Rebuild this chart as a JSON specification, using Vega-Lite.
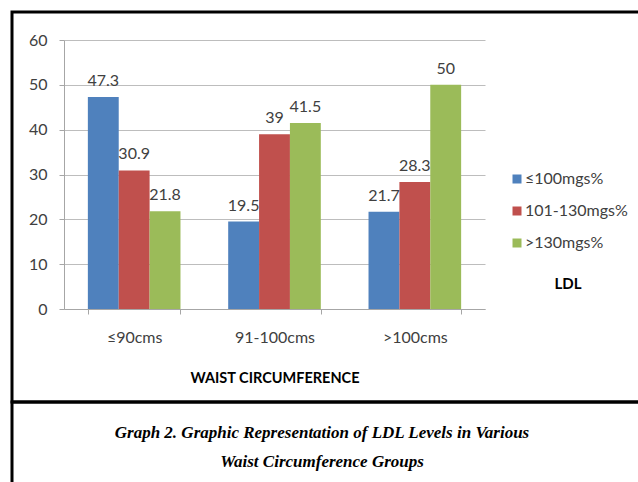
{
  "$schema": "https://vega.github.io/schema/vega-lite/v6.json",
  "padding": {"left": 10, "top": 10, "right": 0, "bottom": 0},
  "background": "white",
  "spacing": 0,
  "bounds": "flush",
  "config": {"view": {"stroke": "black", "strokeWidth": 3}, "font": "Lato"},
  "vconcat": [
    {
      "width": 630,
      "height": 390,
      "data": {"values": [
        {"waist": "≤90cms", "ldl": "≤100mgs%", "value": 47.3},
        {"waist": "≤90cms", "ldl": "101-130mgs%", "value": 30.9},
        {"waist": "≤90cms", "ldl": ">130mgs%", "value": 21.8},
        {"waist": "91-100cms", "ldl": "≤100mgs%", "value": 19.5},
        {"waist": "91-100cms", "ldl": "101-130mgs%", "value": 39},
        {"waist": "91-100cms", "ldl": ">130mgs%", "value": 41.5},
        {"waist": ">100cms", "ldl": "≤100mgs%", "value": 21.7},
        {"waist": ">100cms", "ldl": "101-130mgs%", "value": 28.3},
        {"waist": ">100cms", "ldl": ">130mgs%", "value": 50}
      ]},
      "encoding": {
        "x": {
          "field": "waist", "type": "nominal",
          "sort": ["≤90cms", "91-100cms", ">100cms"],
          "scale": {"range": [52, 473], "paddingInner": 0.34, "paddingOuter": 0.17},
          "axis": {
            "offset": -93, "domainColor": "#a6a6a6", "tickColor": "#a6a6a6", "tickSize": 5,
            "tickBand": "extent", "labelFontSize": 16, "labelColor": "#404040", "labelPadding": 15,
            "labelAngle": 0, "grid": false,
            "title": "WAIST CIRCUMFERENCE", "titleFontSize": 14.5, "titleFontWeight": "bold",
            "titleColor": "#000000", "titlePadding": 26
          }
        },
        "xOffset": {
          "field": "ldl", "type": "nominal",
          "sort": ["≤100mgs%", "101-130mgs%", ">130mgs%"],
          "scale": {"paddingInner": 0, "paddingOuter": 0}
        },
        "y": {
          "field": "value", "type": "quantitative",
          "scale": {"domain": [0, 60], "range": [297, 28], "nice": false},
          "axis": {
            "offset": -52, "values": [0, 10, 20, 30, 40, 50, 60],
            "domainColor": "#a6a6a6", "tickColor": "#a6a6a6", "tickSize": 5,
            "grid": true, "gridColor": "#bdbdbd",
            "labelFontSize": 16, "labelColor": "#404040", "labelPadding": 12,
            "title": null
          }
        }
      },
      "layer": [
        {
          "mark": {"type": "bar"},
          "encoding": {
            "color": {
              "field": "ldl", "type": "nominal",
              "sort": ["≤100mgs%", "101-130mgs%", ">130mgs%"],
              "scale": {"domain": ["≤100mgs%", "101-130mgs%", ">130mgs%"], "range": ["#4F81BD", "#C0504D", "#9BBB59"]},
              "legend": {
                "orient": "none", "legendX": 497, "legendY": 159, "padding": 0,
                "title": "LDL", "titleOrient": "bottom", "titleAnchor": "middle",
                "titleFontWeight": "bold", "titleFontSize": 15, "titleColor": "#000000", "titlePadding": 26,
                "labelFontSize": 16, "labelColor": "#404040", "labelOffset": 0,
                "symbolType": "square", "symbolSize": 81, "symbolStrokeWidth": 0, "rowPadding": 16
              }
            }
          }
        },
        {
          "mark": {"type": "text", "dy": -11, "baseline": "alphabetic", "fontSize": 16, "color": "#404040"},
          "encoding": {"text": {"field": "value", "type": "quantitative"}}
        }
      ]
    },
    {
      "width": 630,
      "height": 90,
      "data": {"values": [
        {"line": 1, "text": "Graph 2. Graphic Representation of LDL Levels in Various"},
        {"line": 2, "text": "Waist Circumference Groups"}
      ]},
      "mark": {"type": "text", "font": "Liberation Serif", "fontStyle": "italic", "fontWeight": "bold", "fontSize": 17, "baseline": "middle", "color": "#000000", "dx": -5},
      "encoding": {
        "y": {"field": "line", "type": "ordinal", "scale": {"range": [31, 60], "padding": 0}, "axis": null},
        "text": {"field": "text"}
      }
    }
  ]
}
